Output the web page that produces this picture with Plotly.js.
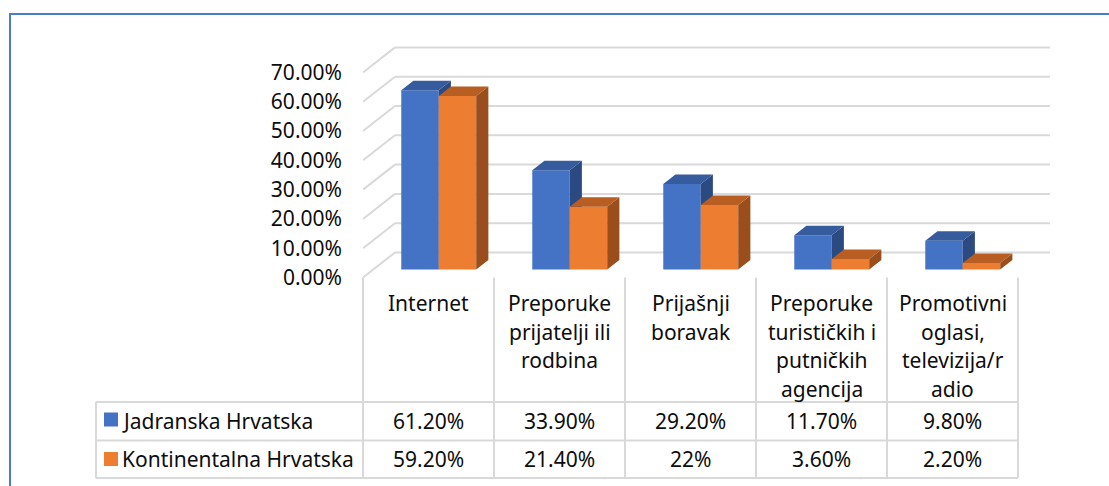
<!DOCTYPE html>
<html>
<head>
<meta charset="utf-8">
<script src="https://cdn.plot.ly/plotly-3.0.1.min.js"></script>
<style>html,body{margin:0;padding:0;background:#fff;}#chart{width:1109px;height:486px;}</style>
</head>
<body>
<div id="chart"></div>
<script>
// ---------------- data ----------------
const categories = ['Internet', 'Preporuke prijatelji ili rodbina', 'Prijašnji boravak',
  'Preporuke turističkih i putničkih agencija', 'Promotivni oglasi, televizija/radio'];
const categoryLabels = ['Internet', 'Preporuke<br>prijatelji ili<br>rodbina', 'Prijašnji<br>boravak',
  'Preporuke<br>turističkih i<br>putničkih<br>agencija', 'Promotivni<br>oglasi,<br>televizija/r<br>adio'];
const seriesNames = ['Jadranska Hrvatska', 'Kontinentalna Hrvatska'];
const jadranska = [61.2, 33.9, 29.2, 11.7, 9.8];
const kontinentalna = [59.2, 21.4, 22, 3.6, 2.2];
const jadranskaLabels = ['61.20%', '33.90%', '29.20%', '11.70%', '9.80%'];
const kontinentalnaLabels = ['59.20%', '21.40%', '22%', '3.60%', '2.20%'];
const yTicks = [0, 10, 20, 30, 40, 50, 60, 70];
const yTickLabels = ['0.00%', '10.00%', '20.00%', '30.00%', '40.00%', '50.00%', '60.00%', '70.00%'];

// ---------------- geometry / styles ----------------
const W = 1109, H = 486;
const px = x => x / W;
const py = y => 1 - y / H;
const FRONT_LEFT = 363, CAT_W = 131, ZERO_Y = 277.5, PX_PER_UNIT = 2.93;
const DEPTH_X = 32, DEPTH_Y = 25, X_RIGHT = 1062, Y_TOP = 40;
const xRange = [-0.5, -0.5 + (X_RIGHT - FRONT_LEFT) / CAT_W];
const yRange = [0, (ZERO_Y - Y_TOP) / PX_PER_UNIT];
const xDomain = [px(FRONT_LEFT), px(X_RIGHT)];
const yDomain = [py(ZERO_Y), py(Y_TOP)];
const dxU = DEPTH_X / CAT_W, dyU = DEPTH_Y / PX_PER_UNIT;
const D0 = 0.32, D1 = 0.70;          // bar depth span (front/back) as fraction of floor depth
const BW = 0.286;                     // bar width in category units
const FONT = 'Noto Sans, Open Sans, sans-serif';
const FS = 21;
const TXT = '#0d0d0d';
const GRID = '#D9D9D9';
const HEAD_LINE0 = 303, HEAD_LINE_STEP = 28.5;
const COLORS = [
  {front: '#4472C4', top: '#365C9E', side: '#2C4A82'},
  {front: '#ED7D31', top: '#B85E22', side: '#9A4E1C'}
];

function seriesTraces(values, idx, offset, xa, ya) {
  const c = COLORS[idx];
  const xs = values.map((v, i) => i + offset + D0 * dxU);
  const base = D0 * dyU;
  const ddx = (D1 - D0) * dxU, ddy = (D1 - D0) * dyU;
  const sideX = [], sideY = [], topX = [], topY = [];
  values.forEach((v, i) => {
    const l = xs[i] - BW / 2, r = xs[i] + BW / 2, t = base + v;
    sideX.push(r, r + ddx, r + ddx, r, r, null);
    sideY.push(base, base + ddy, t + ddy, t, base, null);
    topX.push(l, r, r + ddx, l + ddx, l, null);
    topY.push(t, t, t + ddy, t + ddy, t, null);
  });
  return [
    {type: 'scatter', mode: 'lines', x: sideX, y: sideY, fill: 'toself', fillcolor: c.side,
     line: {width: 0, color: c.side}, hoverinfo: 'skip', showlegend: false, xaxis: xa, yaxis: ya},
    {type: 'scatter', mode: 'lines', x: topX, y: topY, fill: 'toself', fillcolor: c.top,
     line: {width: 0, color: c.top}, hoverinfo: 'skip', showlegend: false, xaxis: xa, yaxis: ya},
    {type: 'bar', name: seriesNames[idx], x: xs, y: values, base: base, width: BW,
     marker: {color: c.front, line: {width: 0}}, showlegend: false, xaxis: xa, yaxis: ya,
     hovertext: categories, hoverinfo: 'text+y'}
  ];
}

const traces = [
  ...seriesTraces(jadranska, 0, -BW / 2, 'x', 'y'),
  ...seriesTraces(kontinentalna, 1, BW / 2, 'x2', 'y2')
];

// ---------------- shapes: walls + table ----------------
const shapes = [];
yTicks.forEach(v => {
  shapes.push({type: 'line', xref: 'x', yref: 'y', x0: -0.5, y0: v, x1: -0.5 + dxU, y1: v + dyU,
    line: {color: GRID, width: 2}, layer: 'below'});
  shapes.push({type: 'line', xref: 'x', yref: 'y', x0: -0.5 + dxU, y0: v + dyU,
    x1: categories.length - 0.5 + dxU, y1: v + dyU, line: {color: GRID, width: 2}, layer: 'below'});
});
// table grid
const TABLE_LEFT = 96, HEAD_TOP = 277.5, ROW1 = 402, ROW2 = 440.5, ROW3 = 478;
const colX = k => FRONT_LEFT + CAT_W * k;
for (let k = 0; k <= categories.length; k++) {
  shapes.push({type: 'line', xref: 'paper', yref: 'paper', x0: px(colX(k)), x1: px(colX(k)),
    y0: py(HEAD_TOP), y1: py(ROW3), line: {color: GRID, width: 2}});
}
shapes.push({type: 'line', xref: 'paper', yref: 'paper', x0: px(TABLE_LEFT), x1: px(TABLE_LEFT),
  y0: py(ROW1), y1: py(ROW3), line: {color: GRID, width: 2}});
[ROW1, ROW2, ROW3].forEach(r => shapes.push({type: 'line', xref: 'paper', yref: 'paper',
  x0: px(TABLE_LEFT), x1: px(colX(categories.length)), y0: py(r), y1: py(r), line: {color: GRID, width: 2}}));
// legend keys
[[412.5, 426.5], [452, 466]].forEach((r, i) => shapes.push({type: 'rect', xref: 'paper', yref: 'paper',
  x0: px(104), x1: px(118), y0: py(r[0]), y1: py(r[1]), fillcolor: COLORS[i].front, line: {width: 0}}));
// outer border (top and left edges visible)
shapes.push({type: 'line', xref: 'paper', yref: 'paper', x0: px(9), x1: px(1200), y0: py(14), y1: py(14),
  line: {color: '#4A7BD0', width: 2}});
shapes.push({type: 'line', xref: 'paper', yref: 'paper', x0: px(10), x1: px(10), y0: py(13), y1: py(600),
  line: {color: '#4A7BD0', width: 2}});

// ---------------- annotations ----------------
const annotations = [];
categoryLabels.forEach((t, i) => t.split('<br>').forEach((line, k) => annotations.push({
  xref: 'x', yref: 'paper', x: i, y: py(HEAD_LINE0 + HEAD_LINE_STEP * k),
  xanchor: 'center', yanchor: 'middle', text: line, showarrow: false,
  font: {family: FONT, size: FS, color: TXT}})));
[jadranskaLabels, kontinentalnaLabels].forEach((row, r) => {
  const yc = r === 0 ? (ROW1 + ROW2) / 2 : (ROW2 + ROW3) / 2;
  row.forEach((t, i) => annotations.push({xref: 'x', yref: 'paper', x: i, y: py(yc),
    xanchor: 'center', yanchor: 'middle', text: t, showarrow: false,
    font: {family: FONT, size: FS, color: TXT}}));
  annotations.push({xref: 'paper', yref: 'paper', x: px(120), y: py(yc), xanchor: 'left', yanchor: 'middle',
    text: seriesNames[r], showarrow: false, font: {family: FONT, size: FS, color: TXT}});
});

const axisHidden = {range: xRange, domain: xDomain, showgrid: false, zeroline: false, showline: false,
  showticklabels: false, ticks: '', fixedrange: true};

const layout = {
  width: W, height: H, margin: {l: 0, r: 0, t: 0, b: 0},
  paper_bgcolor: '#ffffff', plot_bgcolor: 'rgba(0,0,0,0)', showlegend: false,
  barmode: 'overlay',
  xaxis: Object.assign({}, axisHidden),
  xaxis2: Object.assign({}, axisHidden, {overlaying: 'x'}),
  yaxis: {range: yRange, domain: yDomain, showgrid: false, zeroline: false, showline: false,
    tickmode: 'array', tickvals: yTicks, ticktext: yTickLabels, ticks: '',
    ticklabelstandoff: 20, tickfont: {family: FONT, size: FS, color: TXT}, fixedrange: true},
  yaxis2: {range: yRange, domain: yDomain, overlaying: 'y', visible: false, fixedrange: true},
  shapes: shapes,
  annotations: annotations
};

Plotly.newPlot('chart', traces, layout, {displayModeBar: false, staticPlot: true});
</script>
</body>
</html>
